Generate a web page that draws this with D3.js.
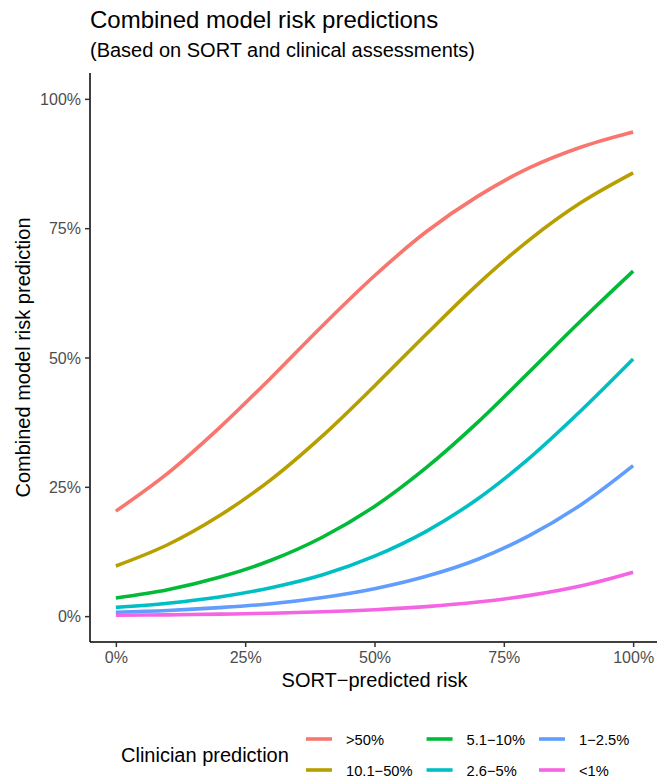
<!DOCTYPE html>
<html>
<head>
<meta charset="utf-8">
<script src="https://cdn.jsdelivr.net/npm/d3@7"></script>
<style>
  html, body { margin: 0; padding: 0; background: #fff; }
  svg { display: block; font-family: "Liberation Sans", Arial, Helvetica, sans-serif; }
</style>
</head>
<body>
<svg id="chart" width="657" height="780"></svg>
<script>
// SORT-predicted risk (x) at which each curve was read
const sortRisk = [0, 0.1, 0.2, 0.3, 0.4, 0.5, 0.6, 0.7, 0.8, 0.9, 1.0];

const categories = [">50%", "10.1−50%", "5.1−10%", "2.6−5%", "1−2.5%", "<1%"];

// combined model risk, one array per clinician prediction group
const over50 = [0.203, 0.276, 0.364, 0.461, 0.562, 0.658, 0.743, 0.812, 0.867, 0.907, 0.936];
const from10to50 = [0.097, 0.138, 0.194, 0.264, 0.349, 0.445, 0.545, 0.642, 0.728, 0.800, 0.857];
const from5to10 = [0.035, 0.051, 0.075, 0.108, 0.153, 0.212, 0.287, 0.375, 0.473, 0.572, 0.667];
const from2to5 = [0.017, 0.025, 0.037, 0.055, 0.080, 0.116, 0.164, 0.227, 0.306, 0.398, 0.497];
const from1to2 = [0.0075, 0.011, 0.0165, 0.024, 0.036, 0.053, 0.077, 0.110, 0.156, 0.216, 0.291];
const under1 = [0.0017, 0.0025, 0.0038, 0.0056, 0.0084, 0.0124, 0.0184, 0.0273, 0.0401, 0.0587, 0.085];

const tickValues = [0, 0.25, 0.5, 0.75, 1];

const colours = ["#F8766D", "#B79F00", "#00BA38", "#00BFC4", "#619CFF", "#F564E3"];

const seriesValues = [over50, from10to50, from5to10, from2to5, from1to2, under1];
const series = categories.map((c, i) => ({
    name: c,
    colour: colours[i],
    points: sortRisk.map((x, j) => ({ x: x, y: seriesValues[i][j] }))
}));

const svg = d3.select("#chart");

const panel = { left: 90, right: 659, top: 73, bottom: 642 };

const xScale = d3.scaleLinear().domain([-0.05, 1.05]).range([panel.left, panel.right]);
const yScale = d3.scaleLinear().domain([-0.05, 1.05]).range([panel.bottom, panel.top]);
const pct = d3.format(".0%");

// titles
svg.append("text")
    .attr("x", 90).attr("y", 28)
    .attr("font-size", 24).attr("fill", "#000")
    .text("Combined model risk predictions");

svg.append("text")
    .attr("x", 90).attr("y", 57)
    .attr("font-size", 20).attr("fill", "#000")
    .text("(Based on SORT and clinical assessments)");

// lines
const line = d3.line()
    .x(d => xScale(d.x))
    .y(d => yScale(d.y))
    .curve(d3.curveCatmullRom.alpha(0.5));

svg.append("g")
    .selectAll("path")
    .data(series)
    .join("path")
    .attr("d", d => line(d.points))
    .attr("fill", "none")
    .attr("stroke", d => d.colour)
    .attr("stroke-width", 3.6)
    .attr("stroke-linecap", "butt");

// axes
const xAxis = svg.append("g")
    .attr("transform", `translate(0, ${panel.bottom})`)
    .call(d3.axisBottom(xScale).tickValues(tickValues).tickFormat(pct).tickSize(5).tickPadding(5));

const yAxis = svg.append("g")
    .attr("transform", `translate(${panel.left}, 0)`)
    .call(d3.axisLeft(yScale).tickValues(tickValues).tickFormat(pct).tickSize(5).tickPadding(4));

[xAxis, yAxis].forEach(ax => {
    ax.select(".domain").attr("stroke", "#000").attr("stroke-width", 1.5);
    ax.selectAll(".tick line").attr("stroke", "#333").attr("stroke-width", 1.5);
    ax.selectAll(".tick text")
        .attr("fill", "#4D4D4D")
        .attr("font-size", 16)
        .attr("font-family", "Liberation Sans, Arial, sans-serif");
});
xAxis.select(".domain").attr("d", `M${panel.left},0H657`);
yAxis.select(".domain").attr("d", `M0,${panel.top}V${panel.bottom}`);
yAxis.selectAll(".tick text").attr("dy", "0.36em");

// axis titles
svg.append("text")
    .attr("x", (panel.left + panel.right) / 2).attr("y", 687)
    .attr("text-anchor", "middle")
    .attr("font-size", 20).attr("fill", "#000")
    .text("SORT−predicted risk");

svg.append("text")
    .attr("transform", `translate(30, ${(panel.top + panel.bottom) / 2}) rotate(-90)`)
    .attr("text-anchor", "middle")
    .attr("font-size", 20).attr("fill", "#000")
    .text("Combined model risk prediction");

// legend
const legendRows = [739, 770];
const legend = svg.append("g");

legend.append("text")
    .attr("x", 121).attr("y", (legendRows[0] + legendRows[1]) / 2 + 7)
    .attr("font-size", 20).attr("fill", "#000")
    .text("Clinician prediction");

let colX = 306;
for (let c = 0; c < 3; c++) {
    const items = series.slice(c * 2, c * 2 + 2);
    let maxW = 0;
    items.forEach((s, r) => {
        legend.append("line")
            .attr("x1", colX).attr("x2", colX + 26)
            .attr("y1", legendRows[r]).attr("y2", legendRows[r])
            .attr("stroke", s.colour).attr("stroke-width", 3.6);
        const t = legend.append("text")
            .attr("x", colX + 40).attr("y", legendRows[r] + 5.5)
            .attr("font-size", 14.7).attr("fill", "#000")
            .text(s.name);
        maxW = Math.max(maxW, t.node().getComputedTextLength());
    });
    colX = colX + 40 + maxW + 14;
}
</script>
</body>
</html>
